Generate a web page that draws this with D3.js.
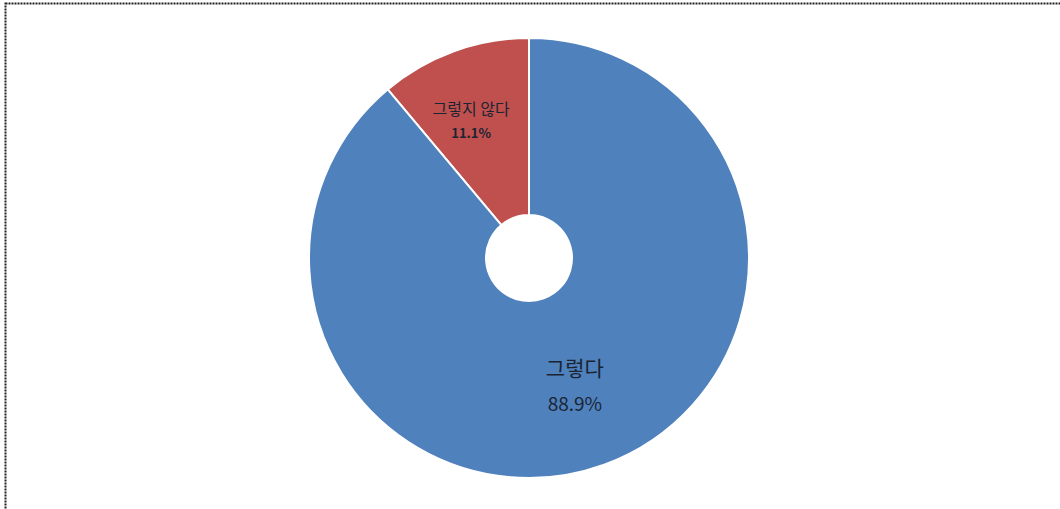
<!DOCTYPE html>
<html>
<head>
<meta charset="utf-8">
<script src="https://cdn.jsdelivr.net/npm/d3@7"></script>
<style>
    html, body { margin: 0; padding: 0; background: #fff; }
    svg { display: block; }
</style>
</head>
<body>
<div id="chart"></div>
<script>
// Chart data
var labels = ['그렇지 않다', '그렇다'];
var values = [11.1, 88.9];
var colors = ['#C0504D', '#4F81BD'];

var width = 1060, height = 509;
var cx = 529, cy = 258;
var outerR = 220, innerR = 43;

var svg = d3.select('#chart').append('svg')
    .attr('width', width)
    .attr('height', height);

// dotted frame, cut off at right and bottom like the original
svg.append('rect')
    .attr('x', 5.5).attr('y', 3.5)
    .attr('width', width + 10).attr('height', height + 10)
    .attr('fill', 'none')
    .attr('stroke', '#222')
    .attr('stroke-width', 2)
    .attr('stroke-dasharray', '2,1');

var data = labels.map(function(l, i) {
    return { label: l, value: values[i], color: colors[i] };
});

// red slice ends at 12 o'clock, blue starts there
var total = d3.sum(values);
var startA = -2 * Math.PI * values[0] / total;
var pie = d3.pie()
    .value(function(d) { return d.value; })
    .sort(null)
    .startAngle(startA)
    .endAngle(startA + 2 * Math.PI);

var arc = d3.arc().innerRadius(innerR).outerRadius(outerR);
var labelArc = d3.arc().innerRadius(140).outerRadius(140);

var g = svg.append('g').attr('transform', 'translate(' + cx + ',' + cy + ')');

var slices = g.selectAll('path')
    .data(pie(data))
    .enter().append('path')
    .attr('d', arc)
    .attr('fill', function(d) { return d.data.color; })
    .attr('stroke', '#fff')
    .attr('stroke-width', 2);

var fontFam = '"Noto Sans CJK KR", "Noto Sans", sans-serif';

g.selectAll('g.lbl')
    .data(pie(data))
    .enter().append('g')
    .attr('class', 'lbl')
    .each(function(d, i) {
        var c = labelArc.centroid(d);
        var big = i === 1;
        var el = d3.select(this);
        var x = c[0] + (big ? -2 : -10);
        el.append('text')
            .attr('x', x)
            .attr('y', c[1] + (big ? -14 : -11))
            .attr('text-anchor', 'middle')
            .attr('font-family', fontFam)
            .attr('font-size', big ? 21 : 16)
            .attr('fill', '#1a2433')
            .text(d.data.label);
        el.append('text')
            .attr('x', x)
            .attr('y', c[1] + (big ? 21 : 12))
            .attr('text-anchor', 'middle')
            .attr('font-family', fontFam)
            .attr('font-size', big ? 19 : 13)
            .attr('font-weight', big ? 'normal' : 'bold')
            .attr('fill', '#1a2433')
            .text(d.data.value.toFixed(1) + '%');
    });
</script>
</body>
</html>
